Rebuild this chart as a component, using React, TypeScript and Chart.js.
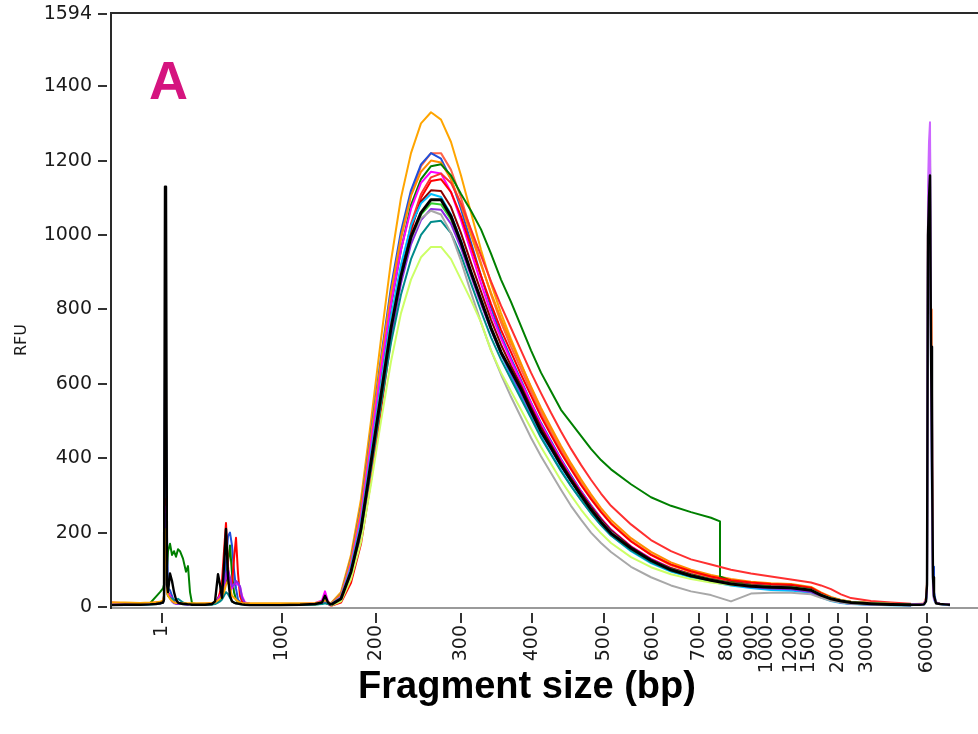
import React, { useEffect, useRef } from 'react';
import { Chart, registerables } from 'chart.js';

Chart.register(...registerables);

// ---- axis data ----
const sizeLabels = ['1', '100', '200', '300', '400', '500', '600', '700', '800', '900', '1000', '1200', '1500', '2000', '3000', '6000'];
// migration time (s) of each ladder size
const ladderTime = [5.1, 17.1, 26.5, 35.0, 42.1, 49.3, 54.2, 58.8, 61.6, 64.1, 65.6, 68.0, 69.8, 72.7, 75.6, 81.6];
const rfuTicks = [0, 200, 400, 600, 800, 1000, 1200, 1400, 1594];
const timeMin = 0;
const timeMax = 86.7;
const rfuMax = 1594;

// ---- sampling times (s) ----
const smearTime = [22, 23, 24, 25, 26, 27, 28, 29, 30, 31, 32, 33, 34, 35, 36, 37, 38, 39, 40, 41, 42, 43, 44, 45, 46, 47, 48, 49, 50, 52, 54, 56, 58, 60, 62, 64, 66, 68, 70, 71, 72, 73, 74, 76, 78, 80];
const greenTime = [22, 23, 24, 25, 26, 27, 28, 29, 30, 31, 32, 33, 34, 35, 36, 37, 38, 39, 40, 41, 42, 43, 44, 45, 46, 47, 48, 49, 50, 52, 54, 56, 58, 60, 60.9, 60.9, 62, 64, 66, 68, 70, 71, 72, 73, 74, 76, 78, 80];
const lowTime = [0, 1.4, 2.9, 3.9, 4.5, 4.9, 5.2, 5.3, 5.4, 5.5,
  5.6, 5.7, 5.9, 6.1, 6.3, 6.5, 6.7, 6.9, 7.2, 7.5,
  7.7, 7.9, 8.1, 8.5, 9.4, 10.1, 10.4, 10.7, 10.9, 11.1,
  11.3, 11.5, 11.7, 11.9, 12.1, 12.3, 12.5, 12.7, 12.9, 13.1,
  13.4, 13.9, 14.9, 16.9, 18.9, 20.4, 21.1, 21.4, 21.7, 22];
const markerTime = [80, 80.4, 80.9, 81.3, 81.5, 81.6, 81.7, 81.8, 81.9, 82, 82.1, 82.2, 82.3, 82.5, 82.9, 83.4, 83.9];

// ---- smear RFU per sample ----
const blackSmear = [6, 22, 95, 210, 390, 570, 750, 890, 995, 1060,
  1095, 1095, 1050, 980, 900, 825, 750, 685, 635, 585,
  528, 472, 428, 382, 340, 300, 262, 228, 198,
  158, 125, 100, 84, 72, 62, 56, 53, 52, 45,
  32, 22, 16, 12, 9, 7, 6];
const orangeSmear = [10, 40, 140, 290, 500, 720, 930, 1100, 1220, 1300,
  1330, 1310, 1250, 1160, 1060, 960, 870, 790, 720, 655,
  590, 530, 478, 428, 380, 336, 296, 258, 225,
  178, 140, 112, 94, 80, 70, 63, 59, 57, 50,
  36, 25, 18, 13, 10, 8, 7];
const tomatoSmear = [8, 30, 120, 255, 450, 650, 840, 990, 1110, 1185,
  1220, 1220, 1175, 1100, 1010, 925, 840, 765, 700, 640,
  580, 522, 470, 422, 376, 333, 294, 258, 226,
  178, 142, 115, 96, 82, 72, 65, 60, 58, 50,
  36, 25, 18, 13, 10, 8, 7];
const blueSmear = [9, 35, 130, 270, 470, 670, 860, 1010, 1120, 1190,
  1220, 1205, 1150, 1070, 980, 890, 805, 730, 668, 610,
  550, 495, 446, 398, 354, 312, 274, 238, 207,
  162, 128, 103, 86, 72, 62, 55, 50, 48, 40,
  28, 18, 12, 9, 7, 6, 5];
const darkOrangeSmear = [9, 34, 128, 265, 462, 660, 845, 995, 1105, 1170,
  1200, 1195, 1150, 1080, 1000, 920, 845, 775, 712, 652,
  592, 535, 483, 433, 386, 343, 303, 266, 234,
  185, 148, 120, 100, 86, 75, 68, 64, 62, 54,
  39, 27, 19, 14, 11, 9, 7];
const magentaSmear = [7, 28, 115, 245, 440, 635, 815, 960, 1070, 1140,
  1170, 1165, 1115, 1040, 955, 870, 790, 722, 662, 605,
  548, 492, 442, 395, 350, 310, 272, 238, 208,
  163, 130, 105, 88, 75, 65, 59, 56, 55, 48,
  34, 23, 17, 13, 10, 8, 6];
const redSmear = [3, 12, 65, 170, 340, 530, 720, 880, 1010, 1100,
  1145, 1150, 1115, 1050, 970, 890, 815, 745, 685, 625,
  568, 512, 462, 414, 370, 328, 290, 255, 224,
  176, 140, 114, 96, 82, 72, 66, 62, 60, 52,
  37, 25, 18, 14, 11, 9, 7];
const red2Smear = [4, 15, 75, 185, 360, 550, 740, 900, 1030, 1110,
  1155, 1165, 1140, 1085, 1015, 945, 875, 810, 750, 690,
  630, 575, 522, 472, 425, 382, 342, 305, 272,
  222, 180, 150, 128, 114, 100, 90, 82, 74, 66,
  58, 48, 34, 24, 16, 12, 9];
const maroonSmear = [5, 20, 90, 205, 385, 570, 755, 905, 1020, 1090,
  1120, 1118, 1075, 1005, 925, 848, 772, 705, 648, 595,
  538, 484, 436, 390, 347, 307, 270, 236, 206,
  162, 128, 104, 88, 75, 65, 59, 56, 55, 48,
  34, 24, 17, 13, 10, 8, 6];
const skySmear = [7, 26, 108, 230, 415, 600, 780, 920, 1025, 1085,
  1110, 1102, 1055, 985, 900, 820, 745, 680, 622, 568,
  512, 460, 412, 368, 326, 288, 252, 220, 192,
  150, 118, 95, 80, 68, 58, 51, 46, 44, 38,
  26, 16, 11, 8, 6, 5, 4];
const limeSmear = [6, 22, 92, 205, 380, 562, 740, 882, 988, 1055,
  1085, 1082, 1042, 975, 898, 822, 750, 686, 630, 578,
  524, 472, 425, 381, 339, 300, 264, 231, 202,
  158, 126, 102, 86, 74, 64, 58, 55, 54, 47,
  33, 23, 17, 13, 10, 8, 6];
const purpleSmear = [5, 20, 88, 200, 375, 555, 730, 870, 975, 1040,
  1070, 1068, 1030, 965, 890, 815, 745, 682, 628, 576,
  522, 470, 424, 380, 338, 300, 264, 230, 201,
  157, 124, 100, 84, 71, 61, 54, 50, 48, 40,
  28, 18, 12, 9, 7, 6, 5];
const tealSmear = [6, 22, 95, 205, 375, 545, 710, 840, 935, 1000,
  1035, 1038, 1005, 945, 870, 795, 725, 665, 612, 560,
  508, 455, 410, 365, 325, 288, 252, 220, 192,
  152, 120, 97, 82, 70, 61, 56, 53, 52, 45,
  32, 22, 16, 12, 9, 7, 6];
const graySmear = [6, 25, 100, 220, 400, 585, 760, 895, 990, 1045,
  1065, 1055, 1005, 930, 845, 765, 690, 625, 565, 510,
  455, 405, 360, 315, 272, 235, 200, 172, 148,
  108, 80, 58, 42, 32, 15, 36, 38, 38, 34,
  25, 17, 12, 9, 7, 6, 5];
const yellowGreenSmear = [4, 15, 75, 175, 330, 500, 660, 790, 880, 940,
  968, 968, 935, 880, 825, 765, 690, 630, 580, 530,
  480, 430, 385, 340, 300, 262, 228, 198, 172,
  134, 107, 88, 75, 66, 60, 56, 54, 53, 46,
  34, 24, 18, 14, 11, 9, 7];
const greenSmear = [6, 22, 100, 225, 420, 620, 810, 960, 1080, 1150,
  1185, 1190, 1160, 1110, 1065, 1015, 950, 880, 820, 755,
  690, 630, 580, 530, 495, 460, 425, 395, 370,
  330, 295, 272, 255, 240, 230, 82,
  70, 60, 55, 53, 46,
  33, 22, 16, 12, 9, 7, 6];

// ---- lower marker + small fragments ----
const blackLow = [5, 6, 6, 7, 8, 10, 12, 20, 1130, 1130,
  60, 40, 90, 70, 40, 20, 12, 10, 8, 8,
  7, 7, 6, 6, 6, 8, 15, 88, 60, 25,
  110, 210, 80, 30, 15, 12, 10, 9, 8, 7,
  6, 5, 5, 5, 6, 8, 12, 30, 12, 6];
const blueLow = [8, 8, 7, 8, 9, 10, 15, 30, 645, 500,
  190, 50, 45, 30, 15, 10, 9, 8, 8, 7,
  7, 8, 7, 7, 8, 8, 10, 25, 30, 40,
  60, 120, 190, 200, 165, 100, 50, 20, 14, 10,
  8, 7, 6, 6, 7, 9, 12, 18, 12, 9];
const greenLow = [6, 6, 6, 10, 28, 40, 50, 60, 200, 120,
  110, 150, 170, 140, 150, 135, 155, 150, 130, 95,
  110, 40, 10, 8, 7, 7, 9, 15, 20, 30,
  45, 70, 120, 165, 90, 40, 20, 14, 10, 8,
  7, 6, 6, 6, 6, 7, 9, 12, 9, 6];
const redLow = [12, 10, 10, 11, 12, 12, 15, 25, 290, 260,
  60, 40, 30, 20, 12, 10, 10, 9, 9, 8,
  8, 8, 8, 8, 9, 10, 12, 20, 40, 70,
  150, 226, 110, 40, 60, 130, 186, 90, 30, 15,
  10, 9, 8, 8, 8, 9, 10, 12, 8, 3];
const magentaLow = [8, 8, 8, 8, 9, 10, 14, 25, 270, 200,
  50, 35, 30, 20, 12, 10, 9, 9, 8, 8,
  8, 8, 8, 8, 8, 9, 10, 20, 30, 40,
  55, 80, 95, 70, 50, 60, 65, 60, 55, 30,
  12, 9, 8, 8, 8, 10, 18, 42, 15, 7];
const purpleLow = [7, 7, 7, 8, 8, 9, 12, 20, 250, 230,
  45, 30, 25, 15, 10, 9, 8, 8, 8, 7,
  7, 7, 7, 7, 7, 8, 10, 18, 25, 35,
  60, 90, 100, 80, 55, 60, 70, 65, 55, 25,
  10, 8, 7, 7, 7, 8, 10, 14, 9, 5];
const tealLow = [6, 6, 6, 7, 8, 9, 12, 20, 180, 150,
  40, 30, 25, 22, 18, 20, 22, 18, 12, 9,
  8, 8, 7, 7, 7, 7, 8, 12, 15, 20,
  30, 40, 35, 25, 15, 12, 10, 9, 8, 7,
  7, 6, 6, 6, 6, 7, 8, 10, 8, 6];
const orangeLow = [12, 12, 11, 12, 13, 14, 18, 30, 210, 180,
  40, 30, 22, 16, 12, 11, 11, 10, 10, 10,
  10, 10, 10, 10, 10, 11, 12, 18, 22, 30,
  40, 60, 70, 50, 30, 25, 20, 15, 12, 11,
  10, 10, 10, 10, 10, 11, 14, 18, 14, 10];

// ---- upper marker ----
const blackMarker = [6, 6, 6, 7, 15, 60, 1000, 1100, 1160, 700, 390, 80, 30, 10, 8, 7, 6];
const violetMarker = [7, 8, 8, 9, 20, 40, 1130, 1250, 1303, 650, 300, 50, 20, 12, 9, 8, 7];
const skyMarker = [6, 7, 7, 8, 15, 35, 980, 1150, 1260, 600, 250, 45, 18, 10, 8, 7, 6];
const salmonMarker = [8, 8, 9, 10, 25, 70, 1030, 1150, 1235, 800, 590, 70, 25, 12, 9, 8, 7];
const blueMarker = [5, 6, 6, 7, 18, 50, 990, 1100, 1190, 750, 570, 108, 40, 12, 8, 6, 5];
const maroonMarker = [6, 6, 7, 8, 20, 55, 1060, 1080, 1100, 700, 500, 60, 22, 10, 8, 7, 6];

type Trace = { times: number[]; values: number[]; color: string; width: number; top?: boolean };

const traces: Trace[] = [
  { times: smearTime, values: yellowGreenSmear, color: '#CCFF66', width: 2 },
  { times: smearTime, values: graySmear, color: '#A8A8A8', width: 2 },
  { times: smearTime, values: tealSmear, color: '#008B8B', width: 2 },
  { times: smearTime, values: purpleSmear, color: '#8A2BE2', width: 2 },
  { times: smearTime, values: limeSmear, color: '#32CD32', width: 2 },
  { times: smearTime, values: skySmear, color: '#00BFFF', width: 2 },
  { times: smearTime, values: maroonSmear, color: '#8B0000', width: 2 },
  { times: smearTime, values: red2Smear, color: '#FF3030', width: 2 },
  { times: smearTime, values: redSmear, color: '#FF0000', width: 2 },
  { times: smearTime, values: magentaSmear, color: '#FF00FF', width: 2 },
  { times: greenTime, values: greenSmear, color: '#008000', width: 2 },
  { times: smearTime, values: darkOrangeSmear, color: '#FF8C00', width: 2 },
  { times: smearTime, values: blueSmear, color: '#1E50DC', width: 2 },
  { times: smearTime, values: tomatoSmear, color: '#FF6347', width: 2 },
  { times: smearTime, values: orangeSmear, color: '#FFA500', width: 2 },
  { times: lowTime, values: orangeLow, color: '#FFA500', width: 2 },
  { times: lowTime, values: tealLow, color: '#008B8B', width: 2 },
  { times: lowTime, values: purpleLow, color: '#8A2BE2', width: 2 },
  { times: lowTime, values: magentaLow, color: '#FF00FF', width: 2 },
  { times: lowTime, values: redLow, color: '#FF0000', width: 2 },
  { times: lowTime, values: greenLow, color: '#008000', width: 2 },
  { times: lowTime, values: blueLow, color: '#1E50DC', width: 2 },
  { times: markerTime, values: violetMarker, color: '#CC66FF', width: 2 },
  { times: markerTime, values: skyMarker, color: '#66CCFF', width: 2 },
  { times: markerTime, values: salmonMarker, color: '#FF9966', width: 2 },
  { times: markerTime, values: blueMarker, color: '#1E50DC', width: 2 },
  { times: markerTime, values: maroonMarker, color: '#8B0000', width: 2 },
  { times: smearTime, values: blackSmear, color: '#000000', width: 3, top: true },
  { times: lowTime, values: blackLow, color: '#000000', width: 2.4, top: true },
  { times: markerTime, values: blackMarker, color: '#000000', width: 2.4, top: true },
];

const tickFont = { family: "'DejaVu Sans', sans-serif", size: 19 };

const decor = {
  id: 'decor',
  beforeDatasetsDraw(chart: any) {
    const { ctx, chartArea: a } = chart;
    ctx.save();
    ctx.strokeStyle = '#9a9a9a';
    ctx.lineWidth = 2;
    ctx.beginPath();
    ctx.moveTo(a.left, a.bottom + 1);
    ctx.lineTo(chart.width, a.bottom + 1);
    ctx.stroke();
    ctx.restore();
  },
  afterDraw(chart: any) {
    const { ctx, chartArea: a, scales } = chart;
    ctx.save();
    ctx.strokeStyle = '#2a2a2a';
    ctx.lineWidth = 2;
    ctx.beginPath();
    ctx.moveTo(a.left, a.top - 1);
    ctx.lineTo(chart.width, a.top - 1);
    ctx.moveTo(a.left, a.top - 2);
    ctx.lineTo(a.left, a.bottom + 2);
    ctx.stroke();
    // tick marks
    ctx.strokeStyle = '#333';
    ctx.beginPath();
    rfuTicks.forEach((v) => {
      const y = Math.round(scales.y.getPixelForValue(v));
      ctx.moveTo(a.left - 13, y);
      ctx.lineTo(a.left - 4, y);
    });
    ladderTime.forEach((t) => {
      const x = Math.round(scales.x.getPixelForValue(t));
      ctx.moveTo(x, a.bottom + 6);
      ctx.lineTo(x, a.bottom + 16);
    });
    ctx.stroke();
    // texts
    ctx.fillStyle = '#1a1a1a';
    ctx.font = "16px 'DejaVu Sans', sans-serif";
    ctx.textAlign = 'center';
    ctx.textBaseline = 'middle';
    ctx.save();
    ctx.translate(22, 340);
    ctx.rotate(-Math.PI / 2);
    ctx.fillText('RFU', 0, 0);
    ctx.restore();
    ctx.fillStyle = '#000';
    ctx.font = "bold 38px 'Liberation Sans', Arial, sans-serif";
    ctx.textAlign = 'center';
    ctx.textBaseline = 'alphabetic';
    ctx.fillText('Fragment size (bp)', 527, 698);
    ctx.fillStyle = '#D5147F';
    ctx.font = "bold 54px 'Liberation Sans', Arial, sans-serif";
    ctx.textAlign = 'left';
    ctx.fillText('A', 149, 99);
    ctx.restore();
  },
};

export default function App() {
  const ref = useRef<HTMLCanvasElement>(null);
  useEffect(() => {
    const canvas = ref.current;
    if (!canvas) return;
    const datasets = traces.map((t) => ({
      data: t.values.map((v, k) => ({ x: t.times[k], y: v })),
      borderColor: t.color,
      borderWidth: t.width,
      pointRadius: 0,
      tension: 0,
      fill: false,
      borderJoinStyle: 'round' as const,
      order: t.top ? 0 : 1,
    }));
    const chart = new Chart(canvas, {
      type: 'line',
      data: { datasets },
      options: {
        responsive: false,
        animation: false,
        devicePixelRatio: 1,
        layout: { padding: { top: 14, right: 0, left: 0, bottom: 0 } },
        plugins: { legend: { display: false }, tooltip: { enabled: false } },
        scales: {
          x: {
            type: 'linear',
            min: timeMin,
            max: timeMax,
            bounds: 'data',
            grid: { display: false, drawTicks: false },
            border: { display: false },
            afterBuildTicks: (s: any) => {
              s.ticks = ladderTime.map((v) => ({ value: v }));
            },
            afterFit: (s: any) => {
              s.height = 127;
              s.paddingLeft = 0;
              s.paddingRight = 0;
            },
            ticks: {
              autoSkip: false,
              minRotation: 90,
              maxRotation: 90,
              padding: 18,
              font: tickFont,
              color: '#1a1a1a',
              callback: (_v: any, i: number) => sizeLabels[i],
            },
          },
          y: {
            type: 'linear',
            min: 0,
            max: rfuMax,
            bounds: 'data',
            grid: { display: false, drawTicks: false },
            border: { display: false },
            afterBuildTicks: (s: any) => {
              s.ticks = rfuTicks.map((v) => ({ value: v }));
            },
            afterFit: (s: any) => {
              s.width = 111;
              s.paddingTop = 0;
              s.paddingBottom = 0;
            },
            ticks: {
              padding: 19,
              font: tickFont,
              color: '#1a1a1a',
              callback: (v: any) => String(v),
            },
          },
        },
      } as any,
      plugins: [decor],
    });
    return () => chart.destroy();
  }, []);
  return (
    <div style={{ position: 'fixed', left: 0, top: 0, width: 978, height: 734, background: '#fff' }}>
      <canvas ref={ref} width={978} height={734} style={{ display: 'block' }} />
    </div>
  );
}
